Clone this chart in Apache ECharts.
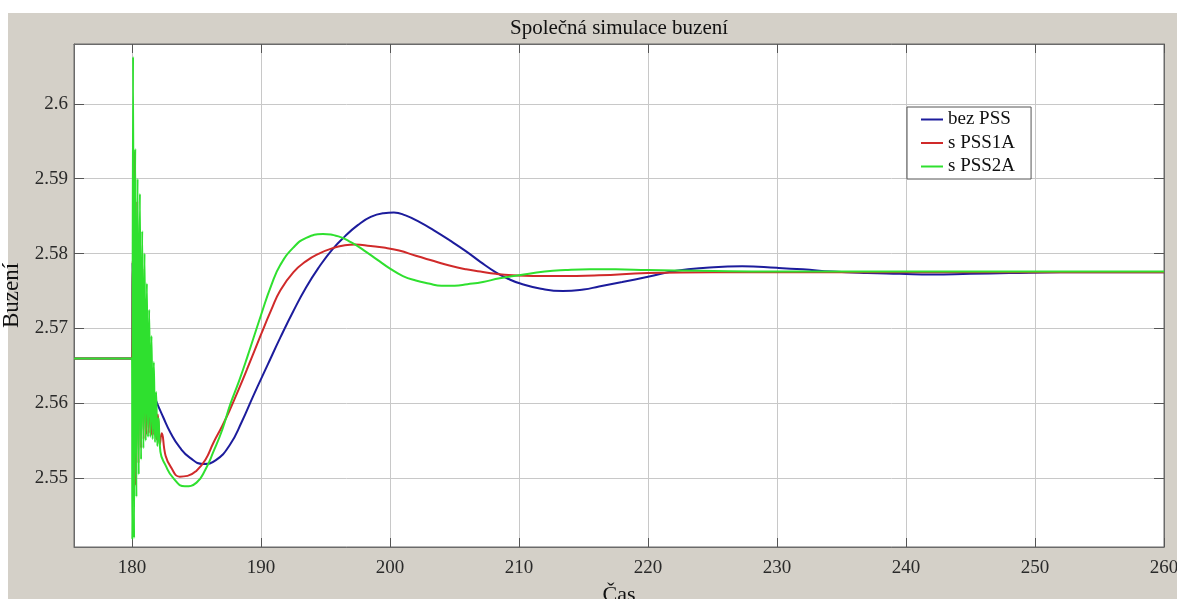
<!DOCTYPE html>
<html>
<head>
<meta charset="utf-8">
<script src="https://cdn.jsdelivr.net/npm/echarts@6/dist/echarts.min.js"></script>
<style>
  html, body { margin: 0; padding: 0; background: #ffffff; }
  #bg { position: absolute; left: 8px; top: 13px; width: 1169px; height: 586px; background: #d4d0c8; }
  #chart { position: absolute; left: 0; top: 0; width: 1177px; height: 599px; }
</style>
</head>
<body>
<div id="bg"></div>
<div id="chart"></div>
<script>
// ---- data ----
const title = 'Společná simulace buzení';
const xName = 'Čas';
const yName = 'Buzení';
const seriesNames = ['bez PSS', 's PSS1A', 's PSS2A'];
const xTicks = [180, 190, 200, 210, 220, 230, 240, 250, 260];
const yTicks = [2.55, 2.56, 2.57, 2.58, 2.59, 2.6];

const bezPSS = [
  [175.5,2.566],[180.0,2.566],[180.04,2.5788],[180.1,2.5560],[180.18,2.5740],[180.27,2.5585],
  [180.36,2.5700],[180.45,2.5605],[180.55,2.5665],[180.65,2.5625],[180.8,2.5648],[181.0,2.5640],
  [181.2,2.5633],[181.8,2.5606],[182.4,2.5582],[183.0,2.5560],[183.7,2.5541],[184.5,2.5527],
  [185.5,2.5519],[186.5,2.5524],[187.6,2.5545],[188.5,2.5575],[189.4,2.5610],[190.5,2.5651],
  [191.5,2.5688],[192.5,2.5723],[193.5,2.5755],[194.5,2.5782],[195.5,2.5805],[196.5,2.5823],
  [197.5,2.5838],[198.5,2.5849],[199.5,2.5854],[200.3,2.5855],[201.2,2.5851],[202.3,2.5842],
  [203.4,2.5831],[204.6,2.5818],[205.9,2.5803],[207.0,2.5789],[208.2,2.5775],[209.2,2.5766],
  [210.1,2.5760],[211.7,2.5753],[213.4,2.5750],[215.0,2.5752],[216.2,2.5756],[218.0,2.5762],
  [220.0,2.5769],[222.2,2.5777],[224.5,2.5781],[227.3,2.5783],[230.0,2.5781],[232.0,2.5779],
  [234.3,2.5776],[237.0,2.5774],[239.5,2.5773],[242.0,2.5772],[245.0,2.5773],[248.0,2.5774],
  [252.0,2.5775],[260.0,2.5775]
];
const sPSS1A = [
  [175.5,2.566],[180.0,2.566],[180.05,2.5790],[180.12,2.5480],[180.2,2.5937],[180.3,2.5490],
  [180.4,2.5870],[180.5,2.5520],[180.6,2.5820],[180.7,2.5540],[180.8,2.5780],[180.9,2.5552],
  [181.0,2.5740],[181.1,2.5558],[181.2,2.5700],[181.3,2.5560],[181.4,2.5665],[181.5,2.5558],
  [181.6,2.5635],[181.7,2.5558],[181.8,2.5610],[181.9,2.5552],[182.0,2.5585],[182.15,2.5545],
  [182.3,2.5560],[182.6,2.5530],[183.0,2.5515],[183.7,2.5502],[184.3,2.5503],[185.0,2.5510],
  [185.7,2.5525],[186.3,2.5547],[187.0,2.5570],[187.6,2.5592],[188.3,2.5620],[188.9,2.5645],
  [190.0,2.5692],[190.8,2.5725],[191.5,2.5751],[192.5,2.5775],[193.5,2.5790],[194.5,2.5800],
  [195.5,2.5807],[196.5,2.5811],[197.3,2.5812],[198.5,2.5810],[199.5,2.5808],[200.7,2.5804],
  [202.0,2.5797],[203.4,2.5790],[204.6,2.5784],[205.9,2.5779],[207.0,2.5776],[208.2,2.5773],
  [209.5,2.5771],[211.1,2.5770],[213.0,2.5770],[216.2,2.5771],[220.0,2.5774],[225.0,2.5775],
  [260.0,2.5775]
];
const sPSS2A = [
  [175.5,2.566],[180.0,2.566],[180.02,2.5418],[180.08,2.6063],[180.16,2.5420],[180.25,2.5940],
  [180.34,2.5475],[180.43,2.5900],[180.52,2.5505],[180.61,2.5880],[180.7,2.5525],[180.79,2.5830],
  [180.88,2.5540],[180.97,2.5800],[181.06,2.5550],[181.15,2.5760],[181.24,2.5555],[181.33,2.5725],
  [181.42,2.5555],[181.51,2.5690],[181.6,2.5552],[181.69,2.5655],[181.78,2.5548],[181.87,2.5615],
  [181.96,2.5543],[182.05,2.5580],[182.2,2.5535],[182.6,2.5517],[183.2,2.5500],[184.1,2.5489],
  [185.0,2.5494],[185.7,2.5512],[186.3,2.5535],[187.0,2.5565],[187.6,2.5598],[188.3,2.5630],
  [188.9,2.5660],[190.0,2.5718],[190.8,2.5758],[191.5,2.5785],[192.5,2.5808],[193.5,2.5821],
  [194.8,2.5826],[196.0,2.5823],[197.0,2.5815],[198.0,2.5804],[199.0,2.5792],[200.0,2.5780],
  [201.0,2.5770],[202.0,2.5764],[203.0,2.5760],[204.0,2.5757],[205.0,2.5757],[206.0,2.5759],
  [207.2,2.5762],[208.5,2.5767],[210.0,2.5771],[212.0,2.5776],[213.6,2.5778],[215.5,2.5779],
  [217.5,2.5779],[220.0,2.5778],[224.0,2.5777],[230.0,2.5776],[260.0,2.5776]
];
const seriesData = [bezPSS, sPSS1A, sPSS2A];
const colors = ['#1c1c9c', '#d02a2a', '#2fe02f'];

// ---- chart ----
const font = '"Liberation Serif", "Times New Roman", serif';
const chart = echarts.init(document.getElementById('chart'), null, { renderer: 'canvas' });

const baseX = {
  type: 'value', min: 175.5, max: 260,
  axisLine: { show: true, onZero: false, lineStyle: { color: '#6a6a6a', width: 1 } },
  axisTick: { show: true, inside: true, length: 9, customValues: xTicks, lineStyle: { color: '#555' } }
};
const baseY = {
  type: 'value', min: 2.5408, max: 2.608,
  axisLine: { show: true, onZero: false, lineStyle: { color: '#6a6a6a', width: 1 } },
  axisTick: { show: true, inside: true, length: 10, customValues: yTicks, lineStyle: { color: '#555' } }
};

chart.setOption({
  animation: false,
  backgroundColor: 'transparent',
  title: {
    text: title, left: 619, top: 18, padding: 0, textAlign: 'center',
    textStyle: { fontFamily: font, fontSize: 21, fontWeight: 'normal', color: '#111' }
  },
  legend: {
    data: seriesNames, orient: 'vertical', left: 907, top: 107,
    padding: [3, 16, 3, 14], itemGap: 4.5, itemWidth: 22, itemHeight: 2, icon: 'rect',
    backgroundColor: '#ffffff', borderColor: '#555', borderWidth: 1, borderRadius: 0,
    textStyle: { fontFamily: font, fontSize: 19, color: '#111', padding: [0, 0, 0, 0] }
  },
  grid: {
    left: 74, top: 44, width: 1090, height: 503, show: true,
    containLabel: false, outerBoundsMode: 'none',
    backgroundColor: '#ffffff', borderColor: '#6a6a6a', borderWidth: 1
  },
  xAxis: [
    Object.assign({}, baseX, {
      position: 'bottom',
      name: xName, nameLocation: 'middle', nameGap: 37,
      nameTextStyle: { fontFamily: font, fontSize: 22, color: '#111' },
      axisLabel: { show: true, customValues: xTicks, margin: 12, fontFamily: font, fontSize: 19, color: '#2a2a2a',
                   formatter: v => String(v) },
      splitLine: { show: true, lineStyle: { color: '#c8c8c8', width: 1 } }
    }),
    Object.assign({}, baseX, {
      position: 'top', axisLabel: { show: false }, splitLine: { show: false }
    })
  ],
  yAxis: [
    Object.assign({}, baseY, {
      position: 'left',
      name: yName, nameLocation: 'middle', nameGap: 43, nameRotate: 90,
      nameTextStyle: { fontFamily: font, fontSize: 23, color: '#111' },
      axisLabel: { show: true, customValues: yTicks, margin: 6, fontFamily: font, fontSize: 19, color: '#2a2a2a',
                   formatter: v => String(Math.round(v * 100) / 100) },
      splitLine: { show: true, lineStyle: { color: '#c8c8c8', width: 1 } }
    }),
    Object.assign({}, baseY, {
      position: 'right', axisLabel: { show: false }, splitLine: { show: false }
    })
  ],
  series: seriesNames.map((name, i) => ({
    name: name, type: 'line', data: seriesData[i],
    xAxisIndex: 0, yAxisIndex: 0,
    showSymbol: false, symbol: 'none', smooth: 0.5,
    clip: true,
    color: colors[i],
    lineStyle: { color: colors[i], width: 2 },
    z: 2 + i
  }))
});
</script>
</body>
</html>
